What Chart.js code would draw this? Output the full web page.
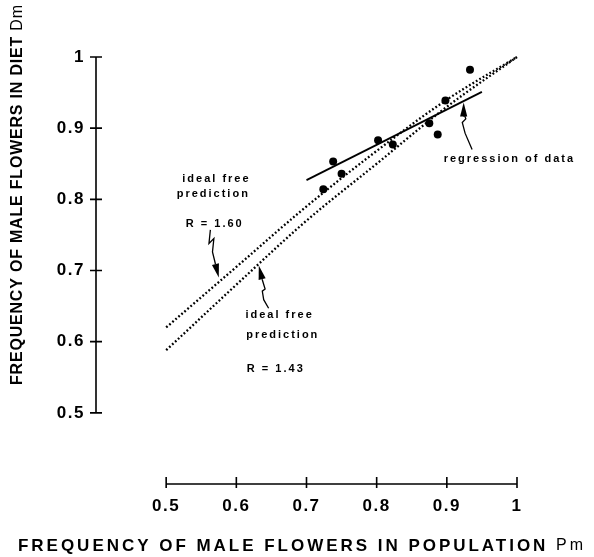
<!DOCTYPE html>
<html><head><meta charset="utf-8">
<script src="https://cdn.jsdelivr.net/npm/chart.js@4"></script>
<style>html,body{margin:0;padding:0;background:#fff}#wrap{width:594px;height:557px;position:relative}</style>
</head><body><div id="wrap"><canvas id="c"></canvas></div>
<script>
// ---- data ----
const pm = [0.724, 0.738, 0.750, 0.802, 0.823, 0.875, 0.887, 0.898, 0.933];
const dm = [0.814, 0.853, 0.836, 0.883, 0.877, 0.907, 0.891, 0.939, 0.982];
const idealX = [0.5, 0.6, 0.7, 0.8, 0.9, 1.0];
const ideal160 = [0.620, 0.705, 0.790, 0.868, 0.940, 1.0];
const ideal143 = [0.588, 0.680, 0.770, 0.850, 0.930, 1.0];
const regX = [0.70, 0.95];
const regY = [0.827, 0.951];
const xTickValues = [0.5, 0.6, 0.7, 0.8, 0.9, 1.0];
const xTickLabels = ['0.5', '0.6', '0.7', '0.8', '0.9', '1'];
const yTickValues = [0.5, 0.6, 0.7, 0.8, 0.9, 1.0];
const yTickLabels = ['0.5', '0.6', '0.7', '0.8', '0.9', '1'];
const xTitle = 'FREQUENCY OF MALE FLOWERS IN POPULATION';
const xTitleSub = 'Pm';
const yTitle = 'FREQUENCY OF MALE FLOWERS IN DIET';
const yTitleSub = 'Dm';
const noteTexts = ['ideal free', 'prediction', 'R = 1.60', 'ideal free', 'prediction', 'R = 1.43', 'regression of data'];
const noteX = [0.523, 0.515, 0.528, 0.613, 0.614, 0.615, 0.8955];
const noteY = [0.828, 0.808, 0.766, 0.637, 0.610, 0.561, 0.857];
const noteBold = [true, true, true, true, true, true, true];
const arrow160 = [[0.563,0.757],[0.561,0.738],[0.568,0.745],[0.566,0.726],[0.575,0.690]];
const arrow143 = [[0.646,0.647],[0.639,0.659],[0.637,0.671],[0.641,0.674],[0.637,0.687],[0.632,0.707]];
const arrowReg = [[0.936,0.870],[0.926,0.893],[0.922,0.908],[0.927,0.913],[0.924,0.922],[0.924,0.936]];
const axisMin = 0.4;

const FONT = '"Liberation Sans", Arial, Helvetica, sans-serif';
const pts = (xs, ys) => xs.map((v, i) => ({x: v, y: ys[i]}));

function drawArrow(ctx, sx, sy, arr) {
  const p = arr.map(a => [sx.getPixelForValue(a[0]), sy.getPixelForValue(a[1])]);
  ctx.beginPath();
  ctx.moveTo(p[0][0], p[0][1]);
  for (let i = 1; i < p.length - 1; i++) ctx.lineTo(p[i][0], p[i][1]);
  const tip = p[p.length - 1], prev = p[p.length - 2];
  const ang = Math.atan2(tip[1] - prev[1], tip[0] - prev[0]);
  const L = 14, W = 3.6;
  const bx = tip[0] - L * Math.cos(ang), by = tip[1] - L * Math.sin(ang);
  ctx.lineTo(bx, by);
  ctx.stroke();
  ctx.beginPath();
  ctx.moveTo(tip[0], tip[1]);
  ctx.lineTo(bx + W * Math.sin(ang), by - W * Math.cos(ang));
  ctx.lineTo(bx - W * Math.sin(ang), by + W * Math.cos(ang));
  ctx.closePath();
  ctx.fill();
}

function drawFitted(ctx, parts, startX, y, target) {
  ctx.letterSpacing = '0px';
  let base = 0, n = 0;
  parts.forEach(p => { ctx.font = p.font; base += ctx.measureText(p.text).width; n += p.text.length; });
  const sp = (target - base) / (n - 1);
  ctx.letterSpacing = sp + 'px';
  let x = startX;
  parts.forEach(p => { ctx.font = p.font; ctx.fillText(p.text, x, y); x += ctx.measureText(p.text).width; });
  ctx.letterSpacing = '0px';
}

const decor = {
  id: 'decor',
  beforeDraw(chart) { chart.ctx.letterSpacing = '1.5px'; },
  afterDatasetsDraw(chart) {
    const ctx = chart.ctx, sx = chart.scales.x, sy = chart.scales.y;
    ctx.save();
    ctx.letterSpacing = '0px';
    ctx.strokeStyle = '#000'; ctx.fillStyle = '#000';
    ctx.lineWidth = 1.6; ctx.lineCap = 'butt';
    const ax = sx.getPixelForValue(axisMin);
    ctx.beginPath();
    ctx.moveTo(ax, sy.getPixelForValue(yTickValues[0]));
    ctx.lineTo(ax, sy.getPixelForValue(yTickValues[yTickValues.length - 1]));
    yTickValues.forEach(v => { const py = sy.getPixelForValue(v); ctx.moveTo(ax - 6, py); ctx.lineTo(ax + 6, py); });
    const ay = sy.getPixelForValue(axisMin);
    ctx.moveTo(sx.getPixelForValue(xTickValues[0]), ay);
    ctx.lineTo(sx.getPixelForValue(xTickValues[xTickValues.length - 1]), ay);
    xTickValues.forEach(v => { const px = sx.getPixelForValue(v); ctx.moveTo(px, ay - 7); ctx.lineTo(px, ay + 4); });
    ctx.stroke();
    ctx.textBaseline = 'middle'; ctx.textAlign = 'left';
    noteTexts.forEach((t, i) => {
      ctx.font = (noteBold[i] ? 'bold ' : '') + '11px ' + FONT;
      ctx.letterSpacing = '2px';
      ctx.fillText(t, sx.getPixelForValue(noteX[i]), sy.getPixelForValue(noteY[i]));
    });
    ctx.letterSpacing = '0px';
    ctx.lineWidth = 1.3;
    [arrow160, arrow143, arrowReg].forEach(a => drawArrow(ctx, sx, sy, a));
    ctx.textBaseline = 'middle';
    drawFitted(ctx, [{text: xTitle + ' ', font: 'bold 17px ' + FONT}, {text: xTitleSub, font: '16px ' + FONT}], 18, 546, 565);
    ctx.translate(18, 195); ctx.rotate(-Math.PI / 2);
    drawFitted(ctx, [{text: yTitle + ' ', font: 'bold 16px ' + FONT}, {text: yTitleSub, font: '16px ' + FONT}], -190, 0, 380);
    ctx.restore();
  }
};

new Chart(document.getElementById('c'), {
  type: 'scatter',
  data: {
    datasets: [
      {label: 'data', data: pts(pm, dm), showLine: false, pointRadius: 4, pointBackgroundColor: '#000', pointBorderColor: '#000', pointBorderWidth: 0, clip: false},
      {label: 'regression of data', data: pts(regX, regY), showLine: true, borderColor: '#000', borderWidth: 1.8, pointRadius: 0, clip: false},
      {label: 'ideal free prediction R = 1.60', data: pts(idealX, ideal160), showLine: true, borderColor: '#000', borderWidth: 2.3, borderDash: [1.8, 2.2], pointRadius: 0, tension: 0.35, clip: false},
      {label: 'ideal free prediction R = 1.43', data: pts(idealX, ideal143), showLine: true, borderColor: '#000', borderWidth: 2.3, borderDash: [1.8, 2.2], pointRadius: 0, tension: 0.35, clip: false}
    ]
  },
  options: {
    responsive: true, maintainAspectRatio: false, animation: false,
    layout: {padding: {left: 0, right: 77, top: 57, bottom: 0}},
    plugins: {legend: {display: false}, tooltip: {enabled: false}},
    scales: {
      x: {
        type: 'linear', min: axisMin, max: 1.0,
        grid: {display: false, drawTicks: false}, border: {display: false},
        afterBuildTicks: s => { s.ticks = xTickValues.map(v => ({value: v})); },
        afterFit: s => { s.height = 73; },
        ticks: {color: '#000', padding: 12, font: {family: FONT, size: 17, weight: 'bold'},
          callback: v => xTickLabels[xTickValues.findIndex(t => Math.abs(t - v) < 1e-9)]}
      },
      y: {
        type: 'linear', min: axisMin, max: 1.0,
        grid: {display: false, drawTicks: false}, border: {display: false},
        afterBuildTicks: s => { s.ticks = yTickValues.map(v => ({value: v})); },
        afterFit: s => { s.width = 96; },
        ticks: {color: '#000', padding: 11, font: {family: FONT, size: 17, weight: 'bold'},
          callback: v => yTickLabels[yTickValues.findIndex(t => Math.abs(t - v) < 1e-9)]}
      }
    }
  },
  plugins: [decor]
});
</script></body></html>
